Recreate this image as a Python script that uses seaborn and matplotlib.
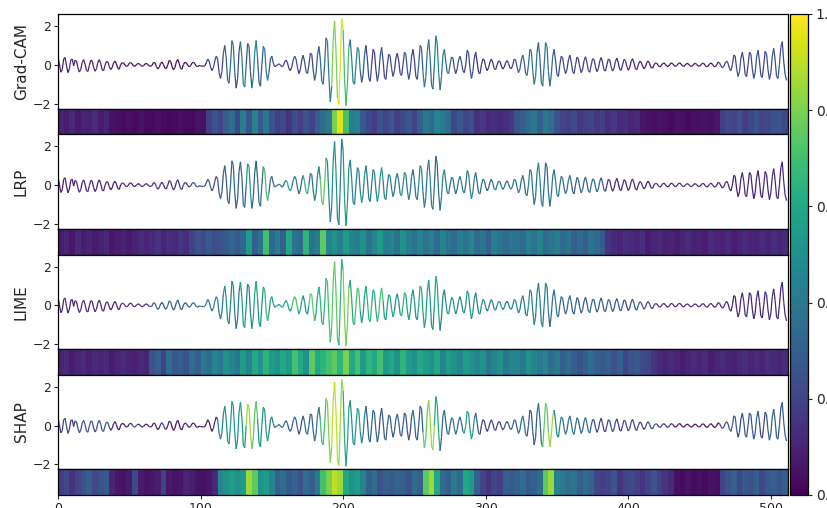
import numpy as np
import seaborn as sns
import matplotlib as mpl
from matplotlib import pyplot as plt
from matplotlib.collections import LineCollection

sns.set_style("ticks")

METHODS = ["Grad-CAM", "LRP", "LIME", "SHAP"]
XTICKS = [0, 100, 200, 300, 400, 500]
YTICKS = [-2, 0, 2]
CBAR_TICKS = [0.0, 0.2, 0.4, 0.6, 0.8, 1.0]

# input signal, 512 samples (11 samples per line)
SIGNAL = [
    0.42, 0.05, -0.38, -0.25, 0.3, 0.38, -0.05, -0.4, -0.2, 0.25, 0.3,
    -0.05, 0.24, 0.19, -0.15, -0.37, -0.23, 0.13, 0.27, 0.05, -0.29, -0.34,
    -0.03, 0.24, 0.2, -0.12, -0.33, -0.2, 0.14, 0.27, 0.06, -0.26, -0.3,
    -0.02, 0.18, 0.15, -0.09, -0.24, -0.14, 0.1, 0.2, 0.05, -0.18, -0.22,
    0.02, 0.11, 0.1, -0.01, -0.08, -0.04, 0.08, 0.12, 0.05, -0.06, -0.07,
    0.0, 0.07, 0.06, -0.02, -0.08, -0.04, 0.04, 0.08, 0.02, -0.06, -0.07,
    -0.03, 0.13, 0.11, -0.08, -0.21, -0.13, 0.07, 0.15, 0.02, -0.17, -0.19,
    0.0, 0.23, 0.19, -0.08, -0.25, -0.14, 0.14, 0.28, 0.08, -0.19, -0.22,
    0.02, 0.13, 0.11, -0.02, -0.1, -0.05, 0.09, 0.14, 0.06, -0.07, -0.09,
    -0.03, -0.05, -0.06, -0.07, -0.05, 0.1, 0.3, 0.2, -0.1, -0.3, -0.15,
    0.2, 0.45, 0.3, -0.4, -0.7, -0.35, 0.6, 1.0, 0.35, -0.8, -0.95,
    0.0, 1.25, 1.0, -0.4, -1.2, -0.7, 0.7, 1.2, 0.4, -1.0, -1.15,
    0.0, 1.1, 0.95, -0.35, -1.2, -0.65, 0.65, 1.25, 0.35, -0.9, -1.1,
    0.0, 0.95, 0.8, -0.3, -0.8, -0.4, 0.3, 0.45, 0.1, -0.1, -0.05,
    0.0, 0.05, 0.0, -0.1, -0.05, 0.15, 0.25, 0.1, -0.2, -0.3, -0.1,
    0.25, 0.45, 0.3, -0.15, -0.45, -0.25, 0.25, 0.5, 0.15, -0.35, -0.45,
    0.0, 0.6, 0.55, -0.25, -0.8, -0.45, 0.5, 0.95, 0.3, -0.85, -1.0,
    0.0, 1.4, 1.2, -0.6, -1.9, -1.1, 1.2, 2.25, 0.7, -1.7, -2.05,
    0.0, 2.38, 1.8, -0.7, -2.1, -1.0, 0.9, 1.3, 0.3, -0.9, -1.0,
    0.0, 0.9, 0.75, -0.3, -0.9, -0.5, 0.5, 1.0, 0.3, -0.7, -0.85,
    0.0, 0.8, 0.65, -0.25, -0.85, -0.45, 0.45, 0.9, 0.25, -0.65, -0.75,
    0.0, 0.55, 0.45, -0.2, -0.6, -0.3, 0.35, 0.6, 0.2, -0.45, -0.55,
    0.0, 0.65, 0.55, -0.25, -0.75, -0.4, 0.45, 0.8, 0.25, -0.6, -0.75,
    0.0, 1.0, 0.85, -0.35, -1.15, -0.65, 0.7, 1.3, 0.4, -1.05, -1.25,
    0.0, 1.5, 1.1, -0.4, -1.3, -0.6, 0.5, 0.8, 0.2, -0.4, -0.45,
    0.0, 0.4, 0.35, -0.15, -0.45, -0.2, 0.25, 0.45, 0.15, -0.3, -0.4,
    0.0, 0.75, 0.6, -0.2, -0.7, -0.35, 0.35, 0.65, 0.15, -0.4, -0.45,
    0.0, 0.3, 0.25, -0.1, -0.3, -0.15, 0.15, 0.3, 0.1, -0.2, -0.25,
    0.0, 0.2, 0.18, -0.06, -0.22, -0.12, 0.12, 0.22, 0.07, -0.16, -0.2,
    0.0, 0.3, 0.25, -0.12, -0.4, -0.22, 0.25, 0.5, 0.15, -0.45, -0.55,
    0.0, 0.8, 0.7, -0.3, -1.0, -0.6, 0.65, 1.15, 0.35, -0.9, -1.1,
    0.0, 1.15, 0.95, -0.35, -1.1, -0.5, 0.45, 0.8, 0.2, -0.5, -0.6,
    0.0, 0.45, 0.35, -0.15, -0.45, -0.25, 0.25, 0.5, 0.15, -0.35, -0.45,
    0.0, 0.4, 0.3, -0.12, -0.4, -0.22, 0.22, 0.42, 0.12, -0.3, -0.38,
    0.0, 0.32, 0.27, -0.1, -0.35, -0.2, 0.2, 0.38, 0.1, -0.27, -0.32,
    0.0, 0.3, 0.25, -0.1, -0.32, -0.18, 0.18, 0.35, 0.1, -0.24, -0.28,
    0.0, 0.28, 0.22, -0.08, -0.28, -0.15, 0.18, 0.32, 0.1, -0.2, -0.25,
    0.0, 0.18, 0.15, -0.06, -0.2, -0.1, 0.12, 0.2, 0.06, -0.14, -0.17,
    0.0, 0.09, 0.08, -0.03, -0.1, -0.05, 0.06, 0.1, 0.03, -0.07, -0.09,
    0.0, 0.1, 0.08, -0.02, -0.08, -0.04, 0.06, 0.11, 0.04, -0.06, -0.08,
    0.0, 0.07, 0.06, -0.03, -0.08, -0.05, 0.04, 0.08, 0.02, -0.06, -0.07,
    0.0, 0.09, 0.07, -0.03, -0.1, -0.06, 0.05, 0.1, 0.03, -0.08, -0.1,
    0.0, 0.14, 0.11, -0.05, -0.15, -0.08, 0.1, 0.2, 0.08, -0.2, -0.3,
    0.0, 0.5, 0.45, -0.2, -0.6, -0.35, 0.35, 0.65, 0.2, -0.5, -0.6,
    0.0, 0.65, 0.55, -0.2, -0.7, -0.4, 0.4, 0.75, 0.2, -0.55, -0.65,
    0.0, 0.7, 0.55, -0.25, -0.75, -0.4, 0.45, 0.85, 0.25, -0.6, -0.7,
    0.0, 0.9, 1.2, 0.2, -0.5, -0.8,
]

# attributions, one value per 4 samples (128 cells)
GRADCAM = [
    .10, .08, .12, .07, .10, .09, .12, .08, .10, .05, .04, .03, .04, .03, .05, .03,
    .03, .04, .03, .02, .03, .04, .03, .03, .05, .04, .18, .25, .20, .30, .35, .22,
    .42, .25, .45, .28, .40, .25, .18, .22, .15, .24, .18, .25, .20, .30, .35, .40,
    .80, .95, .70, .42, .45, .28, .22, .18, .25, .20, .26, .18, .22, .26, .20, .30,
    .40, .35, .45, .40, .35, .22, .26, .20, .24, .14, .16, .12, .14, .12, .14, .16,
    .26, .30, .35, .40, .30, .40, .35, .26, .20, .18, .22, .16, .18, .20, .16, .18,
    .14, .16, .12, .14, .10, .11, .06, .05, .04, .05, .04, .03, .05, .04, .03, .04,
    .04, .05, .04, .06, .18, .22, .20, .25, .18, .22, .26, .20, .22, .25, .26, .22,
]
LRP = [
    .08, .10, .06, .12, .08, .10, .07, .09, .11, .06, .08, .10, .07, .09, .12, .10,
    .12, .15, .10, .14, .12, .16, .13, .20, .25, .22, .28, .24, .26, .28, .32, .28,
    .32, .55, .30, .38, .70, .34, .42, .30, .60, .38, .34, .65, .38, .42, .75, .45,
    .50, .42, .55, .45, .42, .50, .38, .45, .55, .42, .45, .38, .50, .42, .38, .45,
    .38, .42, .34, .45, .38, .34, .42, .38, .45, .34, .38, .30, .42, .38, .34, .38,
    .38, .34, .42, .38, .45, .34, .38, .42, .34, .38, .30, .34, .30, .38, .34, .28,
    .15, .12, .10, .14, .12, .10, .13, .08, .10, .12, .09, .10, .08, .10, .12, .09,
    .10, .08, .12, .10, .09, .11, .08, .10, .12, .10, .09, .12, .10, .13, .10, .12,
]
LIME = [
    .10, .12, .08, .10, .13, .09, .11, .10, .12, .08, .10, .12, .10, .09, .11, .10,
    .25, .30, .20, .35, .28, .30, .25, .35, .30, .40, .35, .45, .40, .50, .45, .40,
    .55, .45, .60, .50, .65, .55, .50, .60, .55, .70, .60, .50, .75, .60, .65, .70,
    .75, .65, .80, .60, .70, .55, .65, .60, .70, .55, .60, .50, .65, .55, .50, .60,
    .55, .50, .60, .45, .55, .50, .45, .55, .50, .45, .50, .40, .45, .50, .40, .45,
    .45, .40, .50, .45, .40, .45, .35, .40, .30, .35, .30, .25, .30, .35, .30, .28,
    .30, .25, .30, .20, .25, .28, .22, .20, .15, .12, .10, .12, .10, .08, .10, .12,
    .10, .12, .08, .10, .12, .10, .09, .11, .13, .10, .12, .10, .14, .12, .10, .13,
]
SHAP = [
    .18, .22, .15, .20, .25, .30, .22, .25, .28, .10, .06, .05, .08, .22, .07, .05,
    .06, .08, .20, .07, .05, .06, .10, .08, .05, .04, .06, .12, .45, .50, .55, .50,
    .55, .85, .75, .50, .55, .45, .30, .35, .28, .32, .25, .35, .30, .40, .70, .80,
    .90, .85, .60, .50, .55, .45, .30, .35, .25, .30, .28, .32, .30, .25, .35, .30,
    .75, .85, .60, .35, .30, .40, .35, .60, .55, .30, .20, .15, .20, .18, .30, .28,
    .30, .35, .28, .30, .35, .75, .85, .45, .40, .35, .38, .30, .35, .32, .20, .18,
    .20, .25, .15, .20, .22, .18, .15, .20, .25, .18, .15, .12, .04, .03, .05, .03,
    .04, .03, .05, .04, .20, .25, .30, .22, .28, .25, .30, .22, .28, .30, .25, .30,
]
ATTRIBUTIONS = [GRADCAM, LRP, LIME, SHAP]

signal = np.array(SIGNAL)
t = np.arange(len(signal))
cell = len(signal) // len(GRADCAM)
norm = mpl.colors.Normalize(0, 1)
cmap = "viridis"

fig = plt.figure(figsize=(8.27, 5.08), dpi=100)
gs = fig.add_gridspec(
    8, 1,
    height_ratios=[94.5, 25.75] * 4,
    left=0.0701, right=0.9528, bottom=0.0256, top=0.9724,
    hspace=0,
)

points = np.column_stack([t, signal])
segments = np.stack([points[:-1], points[1:]], axis=1)

for k, (name, attr) in enumerate(zip(METHODS, ATTRIBUTIONS)):
    ax = fig.add_subplot(gs[2 * k])
    hax = fig.add_subplot(gs[2 * k + 1])

    # colour each line segment by the attribution of its sample
    seg_attr = np.repeat(attr, cell)[:-1]
    lc = LineCollection(segments, cmap=cmap, norm=norm, linewidth=0.9)
    lc.set_array(seg_attr)
    ax.add_collection(lc)
    ax.set_xlim(0, len(signal))
    ax.set_ylim(-2.25, 2.62)
    ax.set_yticks(YTICKS)
    ax.set_xticks([])
    ax.tick_params(axis="y", labelsize=9, length=3, pad=2)
    ax.set_ylabel(name, fontsize=11)
    ax.yaxis.set_label_coords(-0.04, 0.5)
    for s in ax.spines.values():
        s.set_visible(True)
        s.set_color("black")
        s.set_linewidth(0.9)

    sns.heatmap(
        np.array(attr)[None, :],
        ax=hax,
        cmap=cmap,
        vmin=0, vmax=1,
        cbar=False,
        xticklabels=False,
        yticklabels=False,
    )
    for s in hax.spines.values():
        s.set_visible(True)
        s.set_color("black")
        s.set_linewidth(0.9)
    hax.set_ylabel("")

    if k == len(METHODS) - 1:
        hax.set_xticks(np.array(XTICKS) / cell)
        hax.set_xticklabels([str(v) for v in XTICKS], rotation=0)
        hax.tick_params(axis="x", labelsize=9, length=3, pad=2, bottom=True)

cax = fig.add_axes([0.9553, 0.0256, 0.0218, 0.9469])
cb = fig.colorbar(mpl.cm.ScalarMappable(norm=norm, cmap=cmap), cax=cax, ticks=CBAR_TICKS)
cb.outline.set_edgecolor("black")
cb.outline.set_linewidth(0.9)
cax.tick_params(labelsize=10, length=3, pad=2.5)

plt.savefig("out.png", dpi=100)
plt.close()
